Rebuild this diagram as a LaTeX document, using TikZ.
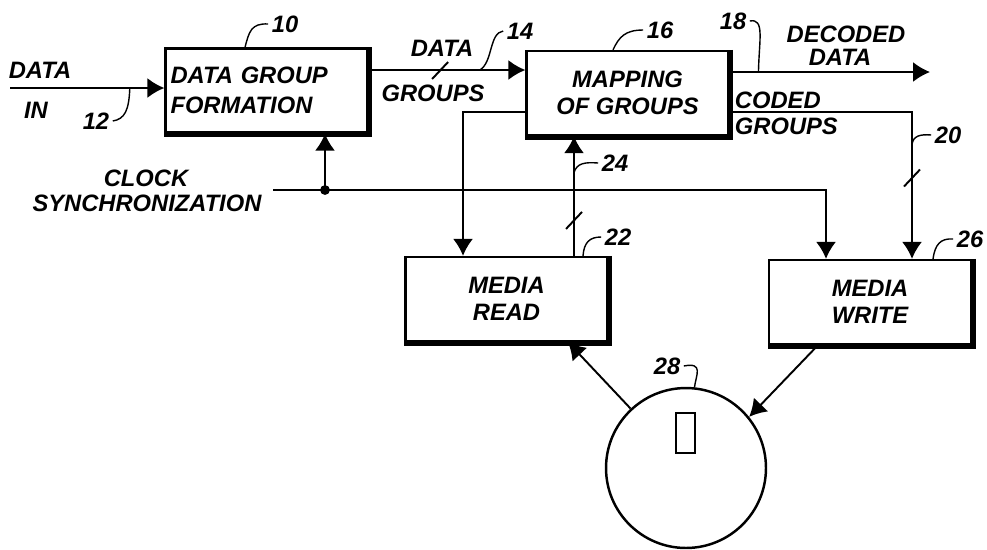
\documentclass[tikz,border=0pt]{standalone}
\usepackage{fontspec}
\setmainfont{Liberation Sans}
\usepackage{tikz}
\usetikzlibrary{arrows.meta,calc}

\begin{document}
\begin{tikzpicture}[x=0.02cm,y=-0.02cm,line width=1.1pt,
    >={Latex[length=0.34cm,width=0.4cm]},
    patfont/.style={font=\fontsize{13.5}{15}\selectfont\bfseries\itshape},
    lbl/.style={patfont,inner sep=0pt},
    numlbl/.style={patfont,inner sep=1.5pt},
    block/.style={draw,line width=1.3pt,patfont,minimum width=4.04cm,
                  minimum height=1.68cm,align=center},
    lead/.style={line width=0.8pt}]
  \useasboundingbox (0,0) rectangle (987,549);

  \node[block,align=left,text width=3.84cm,inner xsep=0.1cm] (dgf) at (266.5,90.5) {DATA GROUP\\[2pt]FORMATION};
  \node[block] (map) at (627.5,93) {MAPPING\\OF GROUPS};
  \node[block] (mread) at (506.5,299) {MEDIA\\READ};
  \node[block] (mwrite) at (870,302) {MEDIA\\WRITE};
  \foreach \n in {dgf,map,mread,mwrite}
    \draw[line width=2.6pt] ([xshift=0.8pt]\n.north east) -- ([xshift=0.8pt,yshift=-0.8pt]\n.south east)
      -- ([yshift=-0.8pt]\n.south west);

  \node[draw,circle,line width=1.4pt,minimum size=3.2cm,inner sep=0pt] (disk) at (686,468) {};
  \node[draw,line width=0.9pt,minimum width=0.38cm,minimum height=0.8cm,inner sep=0pt] (slot) at (685.5,433) {};

  \node[lbl] (datain) at (40,70) {DATA};
  \node[lbl] (in) at (36,110) {IN};
  \node[lbl] (data) at (442,48) {DATA};
  \node[lbl] (groups) at (433,93) {GROUPS};
  \node[lbl] (decoded) at (846,34) {DECODED};
  \node[lbl] (decdata) at (840,57) {DATA};
  \node[lbl,anchor=west] (coded) at (734,100) {CODED};
  \node[lbl,anchor=west] (codgroups) at (734,126) {GROUPS};
  \node[lbl] (clock) at (146,178) {CLOCK};
  \node[lbl] (sync) at (147,203) {SYNCHRONIZATION};

  \node[numlbl] (n10) at (285,24) {10};
  \node[numlbl] (n12) at (96,121) {12};
  \node[numlbl] (n14) at (520,31) {14};
  \node[numlbl] (n16) at (660,30) {16};
  \node[numlbl] (n18) at (733,21) {18};
  \node[numlbl] (n20) at (948,135) {20};
  \node[numlbl] (n22) at (618,237) {22};
  \node[numlbl] (n24) at (615,163) {24};
  \node[numlbl] (n26) at (970,239) {26};
  \node[numlbl] (n28) at (667,366) {28};

  \coordinate (src) at (10,88);
  \coordinate (dec) at (930,72);
  \coordinate (clk) at (273,190);
  \coordinate (junc) at (325,190);

  \draw[->] (src) -- coordinate[pos=0.776] (l12) (dgf.west |- src);
  \draw[->] (dgf.east |- 0,70) -- coordinate[pos=0.456] (t14) coordinate[pos=0.71] (l14) (map.west |- 0,70);
  \draw[->] (map.east |- dec) -- coordinate[pos=0.144] (l18) (dec);
  \draw[->] (map.east |- 0,112) -| coordinate[pos=0.611] (l20) coordinate[pos=0.723] (t20) (mwrite.north -| 912,0);
  \draw[->] (map.west |- 0,112) -| (mread.north -| 463,0);
  \draw[->] (mread.north -| 574,0) -- coordinate[pos=0.30] (t24) coordinate[pos=0.697] (l24) (map.south -| 574,0);
  \draw[->] (clk) -| (mwrite.north -| 826,0);
  \fill (junc) circle (2.8pt);
  \draw[->] (junc) -- (dgf.south -| junc);
  \draw[->] (disk.133) -- (mread.south -| 568,0);
  \draw[->] (mwrite.south -| 818,0) -- (disk.39);

  \foreach \t in {t14,t24,t20}
    \draw (\t) +(-8,9) -- +(8,-8);

  \draw[lead] (dgf.north -| 245,0) .. controls (249,32) and (251,23) .. (n10.west);
  \draw[lead] (l12) .. controls (129,110) and (125,119) .. (n12.east);
  \draw[lead] (l14) .. controls (493,62) and (489,33) .. (n14.west);
  \draw[lead] (map.north -| 613,0) .. controls (619,37) and (625,30) .. (n16.west);
  \draw[lead] (n18.east) .. controls (765,18) and (759,40) .. (l18);
  \draw[lead] (l20) .. controls (913,136) and (920,134) .. (n20.west);
  \draw[lead] (l24) .. controls (577,163) and (585,162) .. (n24.west);
  \draw[lead] (mread.north -| 583,0) .. controls (584,242) and (590,237) .. (n22.west);
  \draw[lead] (mwrite.north -| 933,0) .. controls (935,245) and (940,238) .. (n26.west);
  \draw[lead] (n28.east) .. controls (704,362) and (696,375) .. (disk.84);
\end{tikzpicture}
\end{document}
